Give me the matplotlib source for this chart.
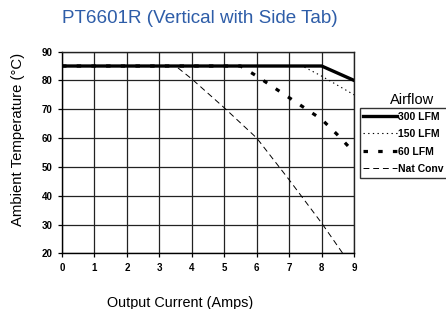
import matplotlib
matplotlib.use("Agg")
import matplotlib.pyplot as plt

plt.rcParams["font.family"] = ["Liberation Sans", "DejaVu Sans"]

# data
x_300 = [0, 8, 9]
y_300 = [85, 85, 80]
x_150 = [0, 7.4, 8, 9]
y_150 = [85, 85, 81.5, 75]
x_60 = [0, 5.5, 6, 7, 8, 8.5, 9]
y_60 = [85, 85, 81.5, 74, 66.5, 61, 55]
x_nat = [0, 3.5, 4, 5, 6, 7, 8, 8.65]
y_nat = [85, 85, 80.5, 70.5, 60, 45.5, 30.5, 20]
xticks = list(range(0, 10))
yticks = list(range(20, 100, 10))

fig = plt.figure(figsize=(4.46, 3.09), dpi=100)
ax = fig.add_axes([0.139, 0.180, 0.655, 0.653])

ax.plot(x_300, y_300, color="black", lw=2.4, label="300 LFM", zorder=5)
ax.plot(x_150, y_150, color="black", lw=0.8, ls=(0, (1.2, 3)), label="150 LFM", zorder=4)
ax.plot(x_60, y_60, color="black", lw=2.3, ls=(0, (1.4, 3.2)), label="60 LFM", zorder=4)
ax.plot(x_nat, y_nat, color="black", lw=0.7, ls=(0, (6, 4)), label="Nat Conv", zorder=4)

ax.set_xlim(0, 9); ax.set_ylim(20, 90)
ax.set_xticks(xticks); ax.set_yticks(yticks)
ax.grid(True, color="#222222", lw=0.9)
ax.tick_params(length=3, width=0.9, labelsize=7, pad=4)
for lab in ax.get_xticklabels() + ax.get_yticklabels():
    lab.set_fontweight("bold")
for sp in ax.spines.values():
    sp.set_linewidth(1.0)
ax.spines["top"].set_color("#222222")
ax.spines["right"].set_color("#222222")

fig.text(0.404, 0.02, "Output Current (Amps)", ha="center", va="center", fontsize=10.4)
fig.text(0.04, 0.55, "Ambient Temperature (°C)", ha="center", va="center",
         rotation=90, fontsize=10.7)
fig.text(0.449, 0.94, "PT6601R (Vertical with Side Tab)", ha="center", va="center",
         fontsize=13.6, color="#2e5da8")

leg = ax.legend(loc="upper left", bbox_to_anchor=(1.0195, 0.721),
                prop={"weight": "bold", "size": 7.5}, frameon=True, fancybox=False,
                edgecolor="black", handlelength=3.2, handletextpad=0.15,
                borderpad=0.35, labelspacing=0.72, borderaxespad=0)
leg.get_frame().set_linewidth(1.0)
fig.text(0.924, 0.676, "Airflow", ha="center", va="center", fontsize=10.5)

fig.savefig("out.png", dpi=100)
